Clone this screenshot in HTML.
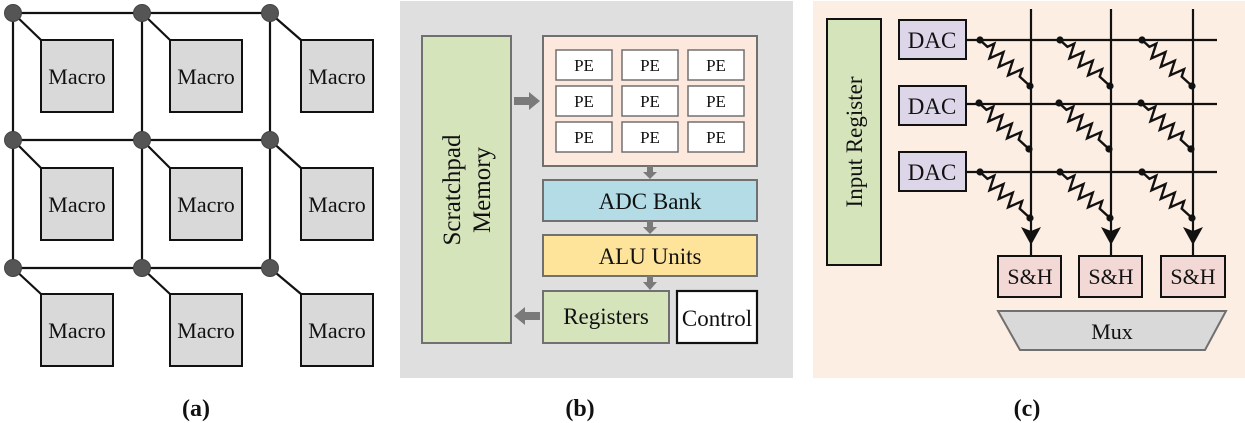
<!DOCTYPE html>
<html><head><meta charset="utf-8"><style>
html,body{margin:0;padding:0;background:#fff}
svg{display:block}
text{font-family:"Liberation Serif",serif;fill:#111}
</style></head><body>
<svg width="1245" height="423" viewBox="0 0 1245 423" xmlns="http://www.w3.org/2000/svg">
<defs>
<g id="res"><path d="M0,0 L7.4,6.8 L14.3,3.6 L9.5,18.3 L23.5,12.1 L18.8,26.8 L32.8,20.7 L28.1,35.3 L42.1,29.2 L39.7,36.6 L50,46" fill="none" stroke="#111" stroke-width="2.4" stroke-linejoin="miter"/>
<circle cx="0" cy="0" r="3.6" fill="#111"/><circle cx="50" cy="46" r="3.6" fill="#111"/></g>
<g id="macro"><rect x="0" y="0" width="72" height="72" fill="#d9d9d9" stroke="#111" stroke-width="2"/><text x="36" y="44" font-size="22" text-anchor="middle">Macro</text></g>
</defs>
<!-- (a) -->
<g stroke="#111" stroke-width="2.2" fill="none">
<path d="M13,13 H270 M13,140 H270 M13,268 H270 M13,13 V268 M142,13 V268 M270,13 V268"/>
<path d="M13,13 L41,40 M142,13 L170,40 M270,13 L301,40 M13,140 L41,168 M142,140 L170,168 M270,140 L301,168 M13,268 L41,294 M142,268 L170,294 M270,268 L301,294"/>
</g>
<use href="#macro" x="41" y="40"/><use href="#macro" x="170" y="40"/><use href="#macro" x="301" y="40"/>
<use href="#macro" x="41" y="168"/><use href="#macro" x="170" y="168"/><use href="#macro" x="301" y="168"/>
<use href="#macro" x="41" y="294"/><use href="#macro" x="170" y="294"/><use href="#macro" x="301" y="294"/>
<g fill="#555" stroke="#444" stroke-width="1">
<circle cx="13" cy="13" r="8.5"/><circle cx="142" cy="13" r="8.5"/><circle cx="270" cy="13" r="8.5"/>
<circle cx="13" cy="140" r="8.5"/><circle cx="142" cy="140" r="8.5"/><circle cx="270" cy="140" r="8.5"/>
<circle cx="13" cy="268" r="8.5"/><circle cx="142" cy="268" r="8.5"/><circle cx="270" cy="268" r="8.5"/>
</g>
<text x="196" y="416" font-size="24" font-weight="bold" text-anchor="middle">(a)</text>

<!-- (b) -->
<rect x="400" y="1" width="393" height="377" fill="#dfdfdf"/>
<rect x="422" y="36" width="89" height="307" fill="#d6e4bc" stroke="#707070" stroke-width="2"/>
<text transform="translate(466,190) rotate(-90)" font-size="25" text-anchor="middle"><tspan x="0" y="-6">Scratchpad</tspan><tspan x="0" y="24">Memory</tspan></text>
<rect x="543" y="36" width="214" height="130" fill="#fce8dc" stroke="#707070" stroke-width="2"/>
<g fill="#fff" stroke="#707070" stroke-width="1.5">
<rect x="556" y="50" width="56" height="30"/><rect x="622" y="50" width="56" height="30"/><rect x="688" y="50" width="56" height="30"/>
<rect x="556" y="86" width="56" height="30"/><rect x="622" y="86" width="56" height="30"/><rect x="688" y="86" width="56" height="30"/>
<rect x="556" y="122" width="56" height="30"/><rect x="622" y="122" width="56" height="30"/><rect x="688" y="122" width="56" height="30"/>
</g>
<g font-size="17" text-anchor="middle">
<text x="584" y="71">PE</text><text x="650" y="71">PE</text><text x="716" y="71">PE</text>
<text x="584" y="107">PE</text><text x="650" y="107">PE</text><text x="716" y="107">PE</text>
<text x="584" y="143">PE</text><text x="650" y="143">PE</text><text x="716" y="143">PE</text>
</g>
<rect x="543" y="180" width="214" height="41" fill="#b4dce6" stroke="#707070" stroke-width="2"/>
<text x="650" y="209" font-size="23" text-anchor="middle">ADC Bank</text>
<rect x="543" y="235" width="214" height="41" fill="#fde49a" stroke="#707070" stroke-width="2"/>
<text x="650" y="264" font-size="23" text-anchor="middle">ALU Units</text>
<rect x="543" y="291" width="126" height="52" fill="#d6e4bc" stroke="#707070" stroke-width="2"/>
<text x="606" y="324" font-size="23" text-anchor="middle">Registers</text>
<rect x="677" y="291" width="80" height="52" fill="#fff" stroke="#111" stroke-width="2.2"/>
<text x="717" y="326" font-size="23" text-anchor="middle">Control</text>
<g fill="#7a7a7a">
<path d="M514,97 H529 V92 L540,101 L529,110 V105 H514 Z"/>
<path d="M540,312 H525 V307 L514,316 L525,325 V320 H540 Z"/>
<path d="M647,166 H653 V172 H657 L650,179 L643,172 H647 Z"/>
<path d="M647,221 H653 V227 H657 L650,234 L643,227 H647 Z"/>
<path d="M647,276 H653 V282 H657 L650,290 L643,282 H647 Z"/>
</g>
<text x="580" y="416" font-size="24" font-weight="bold" text-anchor="middle">(b)</text>

<!-- (c) -->
<rect x="813" y="1" width="432" height="377" fill="#fdeee3"/>
<rect x="827" y="19" width="54" height="246" fill="#d6e4bc" stroke="#111" stroke-width="2"/>
<text transform="translate(862,142) rotate(-90)" font-size="23" text-anchor="middle">Input Register</text>
<g fill="#dcd6e8" stroke="#111" stroke-width="2">
<rect x="899" y="20" width="67" height="39"/><rect x="899" y="86" width="67" height="39"/><rect x="899" y="152" width="67" height="39"/>
</g>
<g font-size="23" text-anchor="middle"><text x="932" y="48">DAC</text><text x="932" y="114">DAC</text><text x="932" y="180">DAC</text></g>
<g stroke="#111" stroke-width="2.2">
<path d="M966,40 H1217 M966,104 H1217 M966,172 H1217 M1031,9 V256 M1111,9 V256 M1193,9 V256"/>
</g>
<use href="#res" x="980" y="40"/><use href="#res" x="1060" y="40"/><use href="#res" x="1142" y="40"/>
<use href="#res" x="979" y="103"/><use href="#res" x="1059" y="103"/><use href="#res" x="1141" y="103"/>
<use href="#res" x="980" y="172"/><use href="#res" x="1060" y="172"/><use href="#res" x="1142" y="172"/>
<g fill="#111">
<path d="M1021,227 L1031,231 L1041,227 L1031,245 Z"/>
<path d="M1101,227 L1111,231 L1121,227 L1111,245 Z"/>
<path d="M1183,227 L1193,231 L1203,227 L1193,245 Z"/>
</g>
<g fill="#f2d9d6" stroke="#111" stroke-width="2">
<rect x="998" y="256" width="63" height="41"/><rect x="1079" y="256" width="63" height="41"/><rect x="1161" y="256" width="64" height="41"/>
</g>
<g font-size="22" text-anchor="middle"><text x="1030" y="284">S&amp;H</text><text x="1111" y="284">S&amp;H</text><text x="1193" y="284">S&amp;H</text></g>
<path d="M998,311 H1226 L1205,350 H1020 Z" fill="#d9d9d9" stroke="#707070" stroke-width="2"/>
<text x="1112" y="339" font-size="22" text-anchor="middle">Mux</text>
<text x="1027" y="416" font-size="24" font-weight="bold" text-anchor="middle">(c)</text>
</svg>
</body></html>
